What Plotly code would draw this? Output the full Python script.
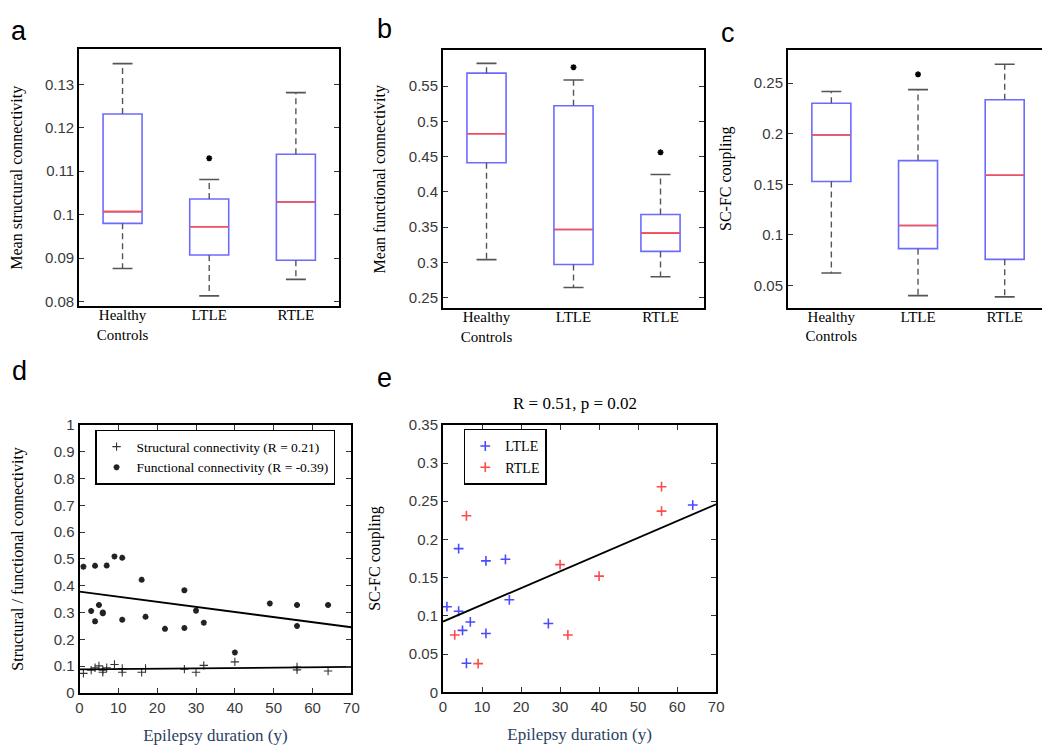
import plotly.graph_objects as go

W, H = 1050, 747

# ---- box plot data (a, b, c) ----
groups = ["Healthy<br>Controls", "LTLE", "RTLE"]
group_pos = [1, 2, 3]

a_lower = [0.0876, 0.0813, 0.0851]
a_q1 = [0.0980, 0.0907, 0.0895]
a_med = [0.1007, 0.0972, 0.1029]
a_q3 = [0.1232, 0.1036, 0.1139]
a_upper = [0.1348, 0.1081, 0.1281]
a_out_x = [2]
a_out_y = [0.1130]

b_lower = [0.3040, 0.2643, 0.2797]
b_q1 = [0.4414, 0.2971, 0.3156]
b_med = [0.4825, 0.3466, 0.3416]
b_q3 = [0.5685, 0.5223, 0.3679]
b_upper = [0.5823, 0.5587, 0.4248]
b_out_x = [2, 3]
b_out_y = [0.5768, 0.4561]

c_lower = [0.0623, 0.0400, 0.0387]
c_q1 = [0.1528, 0.0864, 0.0758]
c_med = [0.1988, 0.1093, 0.1590]
c_q3 = [0.2301, 0.1734, 0.2336]
c_upper = [0.2417, 0.2436, 0.2687]
c_out_x = [2]
c_out_y = [0.2587]

# ---- panel d ----
d_sc_x = [1, 3, 4, 5, 6, 6, 7, 9, 11, 11, 16, 17, 27, 30, 32, 40, 56, 56, 64]
d_sc_y = [0.073, 0.085, 0.094, 0.101, 0.085, 0.077, 0.094, 0.106, 0.091, 0.077,
          0.077, 0.091, 0.089, 0.077, 0.103, 0.116, 0.097, 0.086, 0.082]
d_fc_x = [1, 3, 4, 4, 5, 6, 6, 7, 9, 11, 11, 16, 17, 22, 27, 27, 30, 32, 40, 49, 56, 56, 64]
d_fc_y = [0.471, 0.306, 0.474, 0.267, 0.328, 0.300, 0.297, 0.475, 0.509, 0.504, 0.273,
          0.422, 0.284, 0.239, 0.383, 0.242, 0.307, 0.262, 0.151, 0.334, 0.328, 0.250, 0.328]
d_fit_x = [0, 70]
d_sc_fit_y = [0.088, 0.097]
d_fc_fit_y = [0.378, 0.245]

# ---- panel e ----
e_l_x = [1, 4, 4, 5, 6, 7, 11, 11, 16, 17, 27, 64]
e_l_y = [0.112, 0.188, 0.106, 0.081, 0.038, 0.092, 0.172, 0.077, 0.174, 0.121, 0.090, 0.245]
e_r_x = [3, 6, 9, 30, 32, 40, 56, 56]
e_r_y = [0.075, 0.231, 0.0375, 0.167, 0.075, 0.152, 0.269, 0.237]
e_fit_x = [0, 70]
e_fit_y = [0.0925, 0.246]

SERIF = "Liberation Serif, Times New Roman, serif"
SANS = "Liberation Sans, Arial, sans-serif"
BOXBLUE = "#6b6bff"
MEDRED = "#ff4d4d"
WHISK = "#555555"

fig = go.Figure()


def px_dom(a, b, size):
    return [a / size, b / size]


def py_dom(top, bottom):
    return [1 - bottom / H, 1 - top / H]


def add_boxes(n, lower, q1, med, q3, upper, out_x, out_y):
    xa, ya = ("x", "y") if n == 1 else ("x%d" % n, "y%d" % n)
    half = 0.225
    cap = 0.115
    fig.add_trace(go.Box(
        x=group_pos, q1=q1, median=med, q3=q3, lowerfence=q1, upperfence=q3,
        width=2 * half, line=dict(color=BOXBLUE, width=1.6),
        fillcolor="rgba(255,255,255,0)", boxpoints=False, whiskerwidth=0,
        showlegend=False, xaxis=xa, yaxis=ya,
    ))
    wx, wy, cx, cy, mx, my = [], [], [], [], [], []
    for p, lo, a, m, b, hi in zip(group_pos, lower, q1, med, q3, upper):
        wx += [p, p, None, p, p, None]
        wy += [b, hi, None, a, lo, None]
        cx += [p - cap, p + cap, None, p - cap, p + cap, None]
        cy += [hi, hi, None, lo, lo, None]
        mx += [p - half, p + half, None]
        my += [m, m, None]
    fig.add_trace(go.Scatter(x=wx, y=wy, mode="lines", showlegend=False,
                             line=dict(color=WHISK, width=1.4, dash="6px,4px"),
                             xaxis=xa, yaxis=ya))
    fig.add_trace(go.Scatter(x=cx, y=cy, mode="lines", showlegend=False,
                             line=dict(color=WHISK, width=1.6), xaxis=xa, yaxis=ya))
    fig.add_trace(go.Scatter(x=mx, y=my, mode="lines", showlegend=False,
                             line=dict(color=MEDRED, width=1.6), xaxis=xa, yaxis=ya))
    fig.add_trace(go.Scatter(x=out_x, y=out_y, mode="markers", showlegend=False,
                             marker=dict(symbol="asterisk-open", size=5, color="black",
                                         line=dict(color="black", width=1.6)),
                             xaxis=xa, yaxis=ya))


add_boxes(1, a_lower, a_q1, a_med, a_q3, a_upper, a_out_x, a_out_y)
add_boxes(2, b_lower, b_q1, b_med, b_q3, b_upper, b_out_x, b_out_y)
add_boxes(3, c_lower, c_q1, c_med, c_q3, c_upper, c_out_x, c_out_y)

# panel d
fig.add_trace(go.Scatter(x=d_sc_x, y=d_sc_y, mode="markers", name="Structural connectivity (R = 0.21)",
                         marker=dict(symbol="cross-thin-open", size=6, color="#333",
                                     line=dict(color="#333", width=1.1)),
                         xaxis="x4", yaxis="y4", legend="legend"))
fig.add_trace(go.Scatter(x=d_fc_x, y=d_fc_y, mode="markers", name="Functional connectivity (R = -0.39)",
                         marker=dict(symbol="asterisk-open", size=5, color="#222",
                                     line=dict(color="#222", width=1.8)),
                         xaxis="x4", yaxis="y4", legend="legend"))
fig.add_trace(go.Scatter(x=d_fit_x, y=d_sc_fit_y, mode="lines", showlegend=False,
                         line=dict(color="black", width=1.8), xaxis="x4", yaxis="y4"))
fig.add_trace(go.Scatter(x=d_fit_x, y=d_fc_fit_y, mode="lines", showlegend=False,
                         line=dict(color="black", width=1.8), xaxis="x4", yaxis="y4"))

# panel e
fig.add_trace(go.Scatter(x=e_l_x, y=e_l_y, mode="markers", name="LTLE",
                         marker=dict(symbol="cross-thin-open", size=7, color="#4a4aff",
                                     line=dict(color="#4a4aff", width=1.6)),
                         xaxis="x5", yaxis="y5", legend="legend2"))
fig.add_trace(go.Scatter(x=e_r_x, y=e_r_y, mode="markers", name="RTLE",
                         marker=dict(symbol="cross-thin-open", size=7, color="#ff4a4a",
                                     line=dict(color="#ff4a4a", width=1.6)),
                         xaxis="x5", yaxis="y5", legend="legend2"))
fig.add_trace(go.Scatter(x=e_fit_x, y=e_fit_y, mode="lines", showlegend=False,
                         line=dict(color="black", width=1.8), xaxis="x5", yaxis="y5"))

tickfont = dict(family=SANS, size=15, color="#3a3a3a")
titlefont = dict(family=SERIF, size=16, color="black")


def frame(**kw):
    base = dict(showline=True, linecolor="black", linewidth=2, mirror="allticks",
                showgrid=False, zeroline=False, ticks="inside", ticklen=5,
                tickcolor="#333", tickwidth=1, tickfont=tickfont)
    base.update(kw)
    return base


box_x = dict(range=[0.5, 3.5], tickvals=group_pos, ticktext=groups, ticks="",
             tickfont=dict(family=SERIF, size=15, color="black"), ticklabelstandoff=-6)

layout = dict(
    width=W, height=H, margin=dict(l=0, r=0, t=0, b=0),
    paper_bgcolor="white", plot_bgcolor="white",
    xaxis=frame(domain=px_dom(68, 331, W), anchor="y", **box_x),
    yaxis=frame(domain=py_dom(33, 296), anchor="x", range=[0.0789, 0.1381],
                tickvals=[0.08, 0.09, 0.1, 0.11, 0.12, 0.13],
                ticktext=["0.08", "0.09", "0.1", "0.11", "0.12", "0.13"],
                title=dict(text="Mean structural connectivity", font=titlefont, standoff=20)),
    xaxis2=frame(domain=px_dom(436, 700, W), anchor="y2", **box_x),
    yaxis2=frame(domain=py_dom(34, 298), anchor="x2", range=[0.235, 0.601],
                 tickvals=[0.25, 0.3, 0.35, 0.4, 0.45, 0.5, 0.55],
                 ticktext=["0.25", "0.3", "0.35", "0.4", "0.45", "0.5", "0.55"],
                 title=dict(text="Mean functional connectivity", font=titlefont, standoff=19)),
    xaxis3=frame(domain=px_dom(785, 1048, W), anchor="y3", **box_x),
    yaxis3=frame(domain=py_dom(33.3, 297.7), anchor="x3", range=[0.0278, 0.2832],
                 tickvals=[0.05, 0.1, 0.15, 0.2, 0.25],
                 ticktext=["0.05", "0.1", "0.15", "0.2", "0.25"],
                 title=dict(text="SC-FC coupling", font=titlefont, standoff=18)),
    xaxis4=frame(domain=px_dom(68.3, 343.3, W), anchor="y4", range=[0, 70], dtick=10,
                 title=dict(text="Epilepsy duration (y)", font=dict(family=SERIF, size=17), standoff=14)),
    yaxis4=frame(domain=py_dom(417.3, 691.7), anchor="x4", range=[0, 1],
                 tickvals=[0, 0.1, 0.2, 0.3, 0.4, 0.5, 0.6, 0.7, 0.8, 0.9, 1],
                 ticktext=["0", "0.1", "0.2", "0.3", "0.4", "0.5", "0.6", "0.7", "0.8", "0.9", "1"],
                 title=dict(text="Structural / functional connectivity", font=titlefont, standoff=26)),
    xaxis5=frame(domain=px_dom(436, 712.3, W), anchor="y5", range=[0, 70], dtick=10,
                 title=dict(text="Epilepsy duration (y)", font=dict(family=SERIF, size=17), standoff=14)),
    yaxis5=frame(domain=py_dom(417.3, 691), anchor="x5", range=[0, 0.35],
                 tickvals=[0, 0.05, 0.1, 0.15, 0.2, 0.25, 0.3, 0.35],
                 ticktext=["0", "0.05", "0.1", "0.15", "0.2", "0.25", "0.3", "0.35"],
                 title=dict(text="SC-FC coupling", font=titlefont, standoff=24)),
    legend=dict(x=84 / W, y=1 - 422.5 / H, xanchor="left", yanchor="top",
                bgcolor="white", bordercolor="black", borderwidth=1.5,
                font=dict(family=SERIF, size=13.5, color="black"),
                itemwidth=30, tracegroupgap=0),
    legend2=dict(x=457 / W, y=1 - 421.5 / H, xanchor="left", yanchor="top",
                 bgcolor="white", bordercolor="black", borderwidth=1.5,
                 font=dict(family=SERIF, size=14, color="black"),
                 itemwidth=30, tracegroupgap=0),
)
fig.update_layout(**layout)

# panel letters and panel e title
letters = [("a", 7, 14), ("b", 377, 12), ("c", 724, 16), ("d", 8, 362), ("e", 377, 369)]
for txt, lx, ly in letters:
    fig.add_annotation(text=txt, x=lx / W, y=1 - ly / H, xref="paper", yref="paper",
                       showarrow=False, xanchor="center", yanchor="middle",
                       font=dict(family=SANS, size=27, color="black"))
fig.add_annotation(text="R = 0.51, p = 0.02", x=570 / W, y=1 - 396 / H, xref="paper", yref="paper",
                   showarrow=False, xanchor="center", yanchor="middle",
                   font=dict(family=SERIF, size=17, color="black"))

fig.write_html("out.html")
